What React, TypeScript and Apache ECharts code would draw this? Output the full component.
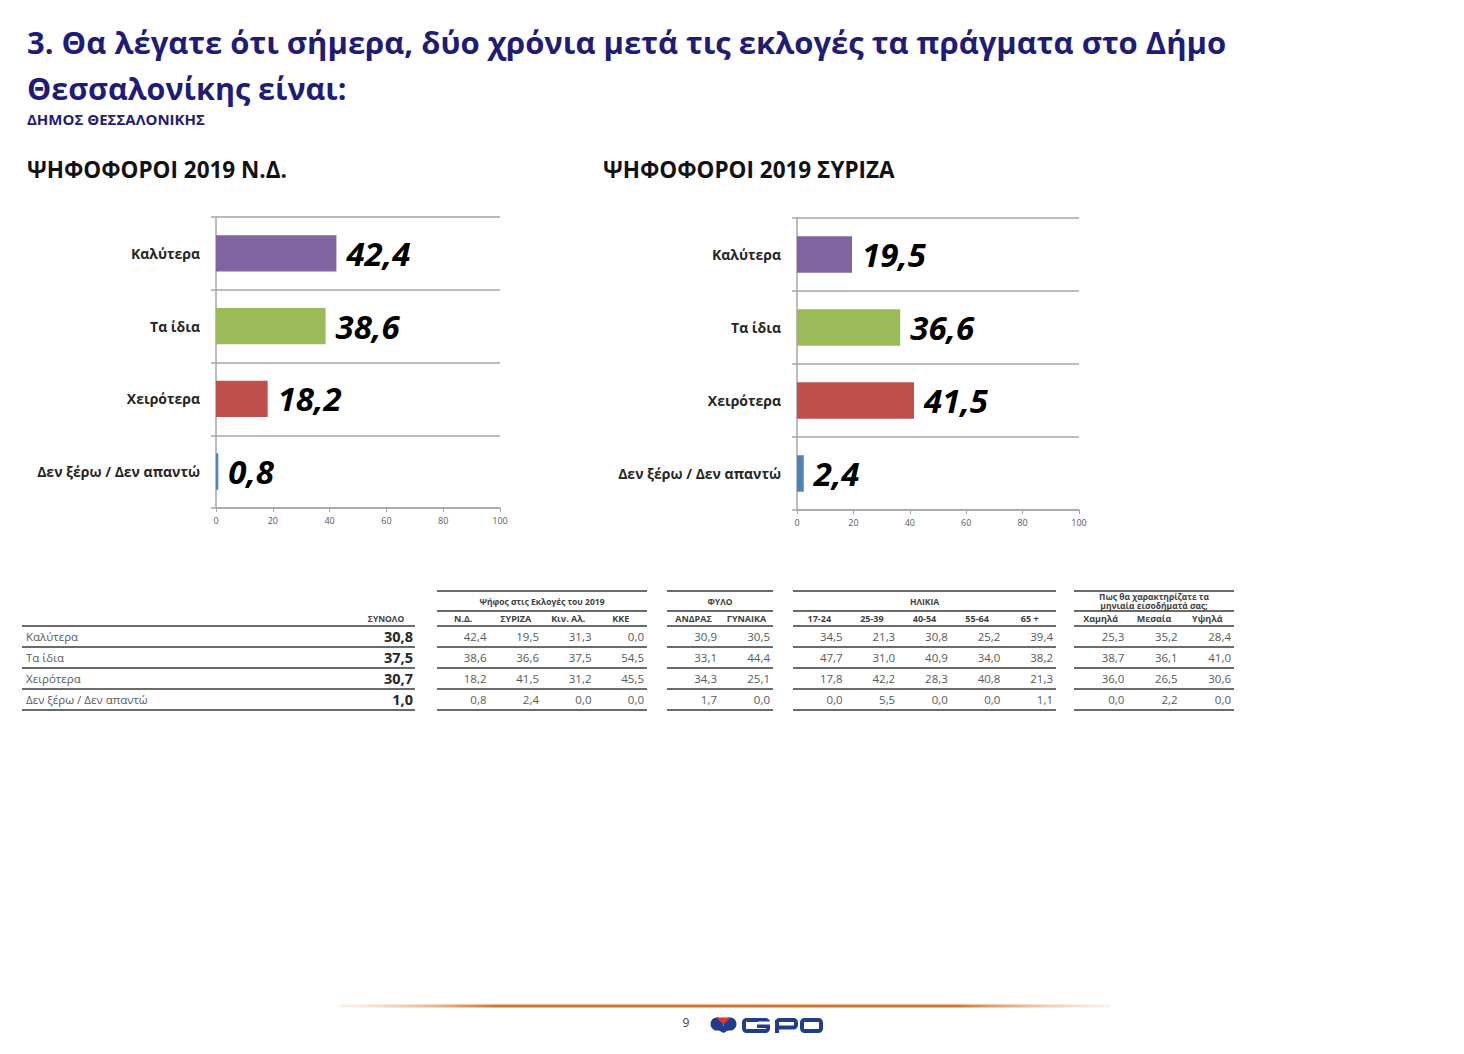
import React, { useEffect, useRef } from "react";
import * as echarts from "echarts";

// ---------- data ----------
const categories = ["Καλύτερα", "Τα ίδια", "Χειρότερα", "Δεν ξέρω / Δεν απαντώ"];
const ndVoters = [42.4, 38.6, 18.2, 0.8];
const syrizaVoters = [19.5, 36.6, 41.5, 2.4];

const totals = [30.8, 37.5, 30.7, 1.0];
const voteCols = ["Ν.Δ.", "ΣΥΡΙΖΑ", "Κιν. Αλ.", "ΚΚΕ"];
const voteValues = [
  [42.4, 38.6, 18.2, 0.8],
  [19.5, 36.6, 41.5, 2.4],
  [31.3, 37.5, 31.2, 0.0],
  [0.0, 54.5, 45.5, 0.0],
];
const sexCols = ["ΑΝΔΡΑΣ", "ΓΥΝΑΙΚΑ"];
const sexValues = [
  [30.9, 33.1, 34.3, 1.7],
  [30.5, 44.4, 25.1, 0.0],
];
const ageCols = ["17-24", "25-39", "40-54", "55-64", "65 +"];
const ageValues = [
  [34.5, 47.7, 17.8, 0.0],
  [21.3, 31.0, 42.2, 5.5],
  [30.8, 40.9, 28.3, 0.0],
  [25.2, 34.0, 40.8, 0.0],
  [39.4, 38.2, 21.3, 1.1],
];
const incomeCols = ["Χαμηλά", "Μεσαία", "Υψηλά"];
const incomeValues = [
  [25.3, 38.7, 36.0, 0.0],
  [35.2, 36.1, 26.5, 2.2],
  [28.4, 41.0, 30.6, 0.0],
];

const titleLines = [
  "3. Θα λέγατε ότι σήμερα, δύο χρόνια μετά τις εκλογές τα πράγματα στο Δήμο",
  "Θεσσαλονίκης είναι:",
];
const subTitle = "ΔΗΜΟΣ ΘΕΣΣΑΛΟΝΙΚΗΣ";
const chartTitles = ["ΨΗΦΟΦΟΡΟΙ 2019 Ν.Δ.", "ΨΗΦΟΦΟΡΟΙ 2019 ΣΥΡΙΖΑ"];
const totalHeader = "ΣΥΝΟΛΟ";
const pageNumber = "9";

// ---------- styles ----------
const FONT = "'Open Sans', 'Noto Sans', sans-serif";
const barColors = ["#8064A2", "#9BBB59", "#C0504D", "#4F81BD"];
const NAVY = "#1F1C78";
const GRID = "#A6A6A6";
const LINE = "#3A3A3A";
const LOGO_BLUE = "#1F3D8C";

const fmt = (v: number) => v.toFixed(1).replace(".", ",");

function text(x: number, y: number, t: string, o: any = {}) {
  return {
    type: "text",
    x,
    y,
    silent: true,
    style: {
      text: t,
      fill: o.fill || "#595959",
      fontSize: o.fontSize || 10,
      fontWeight: o.fontWeight || "normal",
      fontFamily: FONT,
      align: o.align || "left",
      textAlign: o.align || "left",
      verticalAlign: "middle",
      textVerticalAlign: "middle",
    },
  };
}
function hline(x1: number, x2: number, y: number, w = 1.5, c = LINE) {
  return {
    type: "line",
    silent: true,
    shape: { x1, y1: y, x2, y2: y },
    style: { stroke: c, lineWidth: w },
  };
}

function buildTable() {
  const els: any[] = [];
  const rowTop = 626;
  const rowH = 21;
  const lx0 = 22;
  const lx1 = 415;
  const hdr = { fontWeight: "bold", fill: "#404040", align: "center" };
  els.push(text(386, 618, totalHeader, { ...hdr, fontSize: 8.5 }));
  for (let r = 0; r <= categories.length; r++) els.push(hline(lx0, lx1, rowTop + r * rowH));
  categories.forEach((c, r) => {
    const y = rowTop + r * rowH + rowH / 2;
    els.push(text(26, y, c, { fontSize: 11.5 }));
    els.push(text(413, y, fmt(totals[r]), { fontSize: 14.5, fontWeight: "bold", fill: "#262626", align: "right" }));
  });

  const groups = [
    { title: ["Ψήφος στις Εκλογές του 2019"], cols: voteCols, values: voteValues, x0: 437, x1: 647 },
    { title: ["ΦΥΛΟ"], cols: sexCols, values: sexValues, x0: 667, x1: 773 },
    { title: ["ΗΛΙΚΙΑ"], cols: ageCols, values: ageValues, x0: 793, x1: 1056 },
    { title: ["Πως θα χαρακτηρίζατε τα", "μηνιαία εισοδήματά σας;"], cols: incomeCols, values: incomeValues, x0: 1074, x1: 1234 },
  ];
  groups.forEach((g) => {
    const w = (g.x1 - g.x0) / g.cols.length;
    const cx = (g.x0 + g.x1) / 2;
    els.push(hline(g.x0, g.x1, 591));
    els.push(hline(g.x0, g.x1, 611));
    if (g.title.length === 1) {
      els.push(text(cx, 601, g.title[0], { ...hdr, fontSize: 8.5 }));
    } else {
      els.push(text(cx, 596, g.title[0], { ...hdr, fontSize: 8.5 }));
      els.push(text(cx, 605, g.title[1], { ...hdr, fontSize: 8.5 }));
    }
    g.cols.forEach((c, i) => {
      els.push(text(g.x0 + (i + 0.5) * w, 618, c, { ...hdr, fontSize: 9 }));
    });
    for (let r = 0; r <= categories.length; r++) els.push(hline(g.x0, g.x1, rowTop + r * rowH));
    g.values.forEach((col, i) => {
      col.forEach((v, r) => {
        const y = rowTop + r * rowH + rowH / 2;
        els.push(text(g.x0 + (i + 1) * w - 3, y, fmt(v), { fontSize: 11.5, align: "right" }));
      });
    });
  });
  return els;
}

function buildHeader() {
  return [
    text(27, 42, titleLines[0], { fontSize: 31, fontWeight: "bold", fill: NAVY }),
    text(27, 88, titleLines[1], { fontSize: 30.5, fontWeight: "bold", fill: NAVY }),
    text(27, 119, subTitle, { fontSize: 15, fontWeight: "bold", fill: NAVY }),
    text(27, 169, chartTitles[0], { fontSize: 22.5, fontWeight: "bold", fill: "#111" }),
    text(603, 169, chartTitles[1], { fontSize: 22.5, fontWeight: "bold", fill: "#111" }),
  ];
}

function buildFooter() {
  return [
    {
      type: "rect",
      silent: true,
      shape: { x: 340, y: 1004.5, width: 770, height: 3 },
      style: {
        fill: {
          type: "linear",
          x: 0,
          y: 0,
          x2: 1,
          y2: 0,
          colorStops: [
            { offset: 0, color: "rgba(235,190,150,0.2)" },
            { offset: 0.2, color: "#D9742A" },
            { offset: 0.8, color: "#D9742A" },
            { offset: 1, color: "rgba(235,190,150,0.2)" },
          ],
        },
      },
    },
    text(686, 1022, pageNumber, { fontSize: 12, fill: "#404040", align: "center" }),
    // logo mark: blue heart with red chevron
    { type: "circle", silent: true, shape: { cx: 717, cy: 1024, r: 6.5 }, style: { fill: LOGO_BLUE } },
    { type: "circle", silent: true, shape: { cx: 730, cy: 1024, r: 6.5 }, style: { fill: LOGO_BLUE } },
    { type: "polygon", silent: true, shape: { points: [[711, 1026], [736, 1026], [723.5, 1033]] }, style: { fill: LOGO_BLUE } },
    { type: "polygon", silent: true, shape: { points: [[716, 1017.5], [731, 1017.5], [723.5, 1024.5]] }, style: { fill: "#E0352B" } },
    // G
    { type: "rect", silent: true, shape: { x: 744, y: 1020, width: 24, height: 11, r: 2.5 }, style: { fill: "none", stroke: LOGO_BLUE, lineWidth: 4 } },
    { type: "rect", silent: true, shape: { x: 758, y: 1021.5, width: 12, height: 4 }, style: { fill: "#fff" } },
    { type: "rect", silent: true, shape: { x: 757, y: 1024.5, width: 13, height: 3.5 }, style: { fill: LOGO_BLUE } },
    // P
    { type: "rect", silent: true, shape: { x: 777, y: 1020, width: 19, height: 7.5, r: 2.5 }, style: { fill: "none", stroke: LOGO_BLUE, lineWidth: 4 } },
    { type: "rect", silent: true, shape: { x: 775, y: 1020, width: 4, height: 13 }, style: { fill: LOGO_BLUE } },
    // O
    { type: "rect", silent: true, shape: { x: 802, y: 1020, width: 19, height: 11, r: 2.5 }, style: { fill: "none", stroke: LOGO_BLUE, lineWidth: 4 } },
  ];
}

function axisPair(gridIndex: number) {
  const x = {
    type: "value",
    gridIndex,
    min: 0,
    max: 100,
    interval: 20,
    axisLine: { show: true, lineStyle: { color: GRID, width: 1.5 } },
    axisTick: { show: true, length: 4, lineStyle: { color: GRID } },
    axisLabel: { fontSize: 9, color: "#595959", margin: 8, fontFamily: FONT },
    splitLine: { show: false },
  };
  const y = {
    type: "category",
    gridIndex,
    data: categories,
    inverse: true,
    axisLine: { show: true, lineStyle: { color: GRID, width: 1.5 } },
    axisTick: { show: true, length: 5, lineStyle: { color: GRID, width: 1.5 } },
    axisLabel: { fontSize: 14, fontWeight: "bold", color: "#262626", margin: 16, fontFamily: FONT },
    splitLine: { show: true, lineStyle: { color: GRID, width: 1.5 } },
  };
  return { x, y };
}

function barSeries(idx: number, data: number[]) {
  return {
    type: "bar",
    xAxisIndex: idx,
    yAxisIndex: idx,
    data,
    barWidth: "50%",
    itemStyle: { color: (p: any) => barColors[p.dataIndex] },
    label: {
      show: true,
      position: "right",
      distance: 10,
      fontSize: 33,
      fontWeight: "bold",
      fontStyle: "italic",
      color: "#000",
      fontFamily: FONT,
      formatter: (p: any) => fmt(p.value),
    },
  };
}

export default function App() {
  const ref = useRef<HTMLDivElement>(null);
  useEffect(() => {
    if (!ref.current) return;
    const chart = echarts.init(ref.current, null, { renderer: "svg" });
    const a0 = axisPair(0);
    const a1 = axisPair(1);
    chart.setOption({
      animation: false,
      backgroundColor: "#fff",
      grid: [
        { left: 216, top: 217, width: 284, height: 291 },
        { left: 797, top: 218, width: 282, height: 292 },
      ],
      xAxis: [a0.x, a1.x],
      yAxis: [a0.y, a1.y],
      series: [barSeries(0, ndVoters), barSeries(1, syrizaVoters)],
      graphic: [...buildHeader(), ...buildTable(), ...buildFooter()],
    });
    return () => chart.dispose();
  }, []);
  return (
    <div
      ref={ref}
      style={{ position: "absolute", left: 0, top: 0, width: 1464, height: 1054, background: "#fff" }}
    />
  );
}
